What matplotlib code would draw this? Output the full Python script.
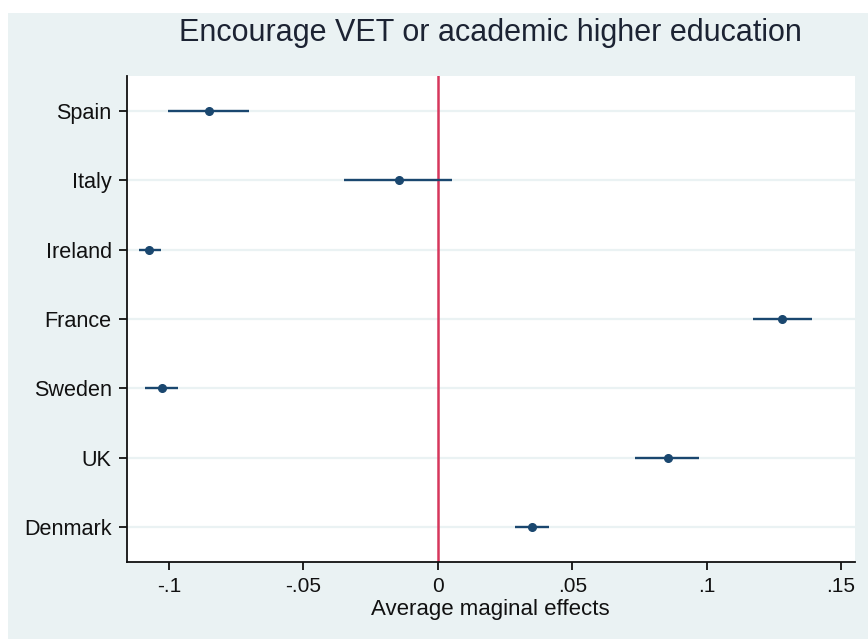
import numpy as np
import matplotlib.pyplot as plt
from matplotlib.patches import Rectangle

plt.rcParams['font.family'] = ['Liberation Sans', 'DejaVu Sans']

countries = ['Denmark', 'UK', 'Sweden', 'France', 'Ireland', 'Italy', 'Spain']
effect = [0.035, 0.0856, -0.1026, 0.128, -0.1074, -0.0144, -0.0851]
ci_low = [0.0287, 0.0734, -0.109, 0.1173, -0.111, -0.0349, -0.1004]
ci_high = [0.0414, 0.0972, -0.0966, 0.1393, -0.103, 0.0053, -0.0702]
xticks = [-0.1, -0.05, 0, 0.05, 0.1, 0.15]
xticklabels = ['-.1', '-.05', '0', '.05', '.1', '.15']

bg = '#EAF2F3'
navy = '#1A476F'

fig = plt.figure(figsize=(8.68, 6.39), dpi=100, facecolor='white')
# light outer panel behind the plot region
panel = Rectangle((8 / 868, 0), 1, 1 - 13 / 639, transform=fig.transFigure,
                  facecolor=bg, edgecolor='none', zorder=-1)
fig.add_artist(panel)
ax = fig.add_axes([127 / 868, 1 - 562 / 639, (855 - 127) / 868, (562 - 76) / 639])
ax.set_zorder(1)
ax.set_facecolor('white')

y = np.arange(1, len(countries) + 1)
for yy in y:
    ax.axhline(yy, color=bg, lw=1.6, zorder=1)
ax.axvline(0, color='#D6375C', lw=1.8, zorder=2)
ax.hlines(y, ci_low, ci_high, color=navy, lw=1.7, zorder=3)
ax.plot(effect, y, 'o', color=navy, markersize=5.5, zorder=4)

ax.set_xlim(-0.1156, 0.1552)
ax.set_ylim(0.5, 7.5)
ax.set_yticks(y)
ax.set_yticklabels(countries)
ax.set_xticks(xticks)
ax.set_xticklabels(xticklabels)
ax.tick_params(axis='both', labelsize=15, length=6, width=1.3, pad=5, colors='#111')
ax.tick_params(axis='y', labelsize=15.6)

for s in ['top', 'right']:
    ax.spines[s].set_visible(False)
for s in ['left', 'bottom']:
    ax.spines[s].set_linewidth(1.3)
    ax.spines[s].set_color('#111')

fig.text(490 / 868, 1 - 33 / 639, 'Encourage VET or academic higher education',
         ha='center', va='center', fontsize=22, color='#1c2333')
fig.text(490 / 868, 1 - 609 / 639, 'Average maginal effects',
         ha='center', va='center', fontsize=16, color='#111')

fig.savefig('out.png', dpi=100, facecolor=fig.get_facecolor())
